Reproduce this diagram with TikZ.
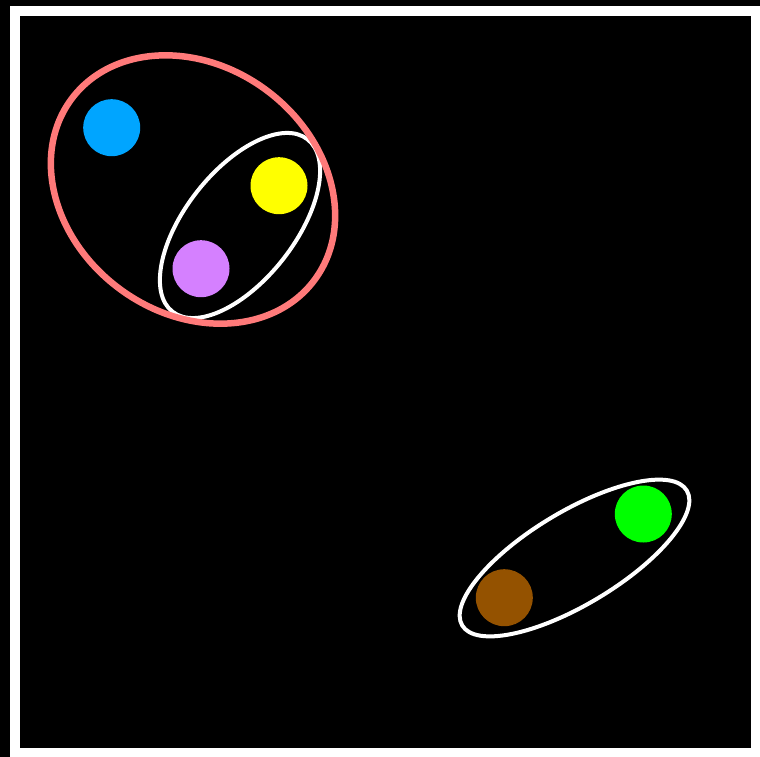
\documentclass[tikz,border=0pt]{standalone}
\definecolor{cblue}{RGB}{0,165,255}
\definecolor{cyellow}{RGB}{255,255,0}
\definecolor{cpurple}{RGB}{213,128,255}
\definecolor{cgreen}{RGB}{0,255,0}
\definecolor{cbrown}{RGB}{148,82,0}
\definecolor{cred}{RGB}{255,122,122}
\begin{document}
\begin{tikzpicture}[x=1pt,y=-1pt,
  dot/.style={circle,inner sep=0pt,minimum size=57pt,draw=none},
  grp/.style={draw=white,line width=4pt},
  outergrp/.style={draw=cred,line width=6.5pt}]
\useasboundingbox (0,0) rectangle (760,757);
\fill[black] (0,0) rectangle (760,757);
\fill[white] (9.5,6) rectangle (760,757);
\fill[black] (20,16) rectangle (751,748);
% groups
\draw[grp] (240,225.5) ellipse[x radius=109.5pt,y radius=54.7pt,rotate=51.9];
\draw[grp] (574.5,558) ellipse[x radius=131pt,y radius=46.5pt,rotate=31];
\draw[outergrp] (193,189.5) ellipse[x radius=151.5pt,y radius=123.5pt,rotate=-36.7];
% dots
\node[dot,fill=cblue] (blue) at (111.7,127.7) {};
\node[dot,fill=cyellow] (yellow) at (279,185.7) {};
\node[dot,fill=cpurple] (purple) at (201,268.7) {};
\node[dot,fill=cgreen] (green) at (643.3,514) {};
\node[dot,fill=cbrown] (brown) at (504.3,597.7) {};
\end{tikzpicture}
\end{document}
